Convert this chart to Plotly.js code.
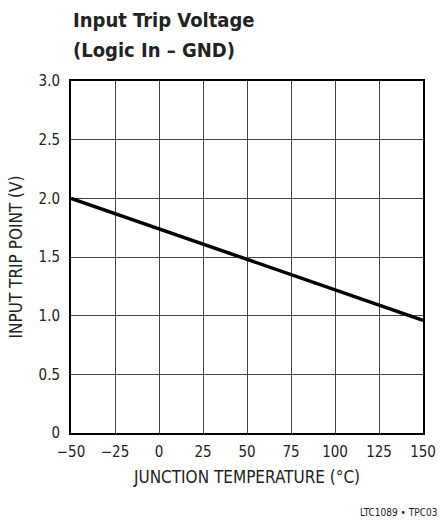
<!DOCTYPE html>
<html>
<head>
<meta charset="utf-8">
<script src="https://cdn.plot.ly/plotly-3.0.1.min.js"></script>
<style>
html,body{margin:0;padding:0;background:#fff;}
#chart{width:440px;height:521px;}
</style>
</head>
<body>
<div id="chart"></div>
<script>
const temperature = [-50, 0, 50, 100, 150];
const tripPoint = [2.0, 1.74, 1.48, 1.22, 0.96];
const xTickVals = [-50, -25, 0, 25, 50, 75, 100, 125, 150];
const xTickText = ["\u221250", "\u221225", "0", "25", "50", "75", "100", "125", "150"];
const yTickVals = [0, 0.5, 1.0, 1.5, 2.0, 2.5, 3.0];
const yTickText = ["0", "0.5", "1.0", "1.5", "2.0", "2.5", "3.0"];

const FONT = "'Liberation Sans Narrow', 'DejaVu Sans Condensed', 'Roboto Condensed', sans-serif";

const trace = {
  x: temperature,
  y: tripPoint,
  mode: 'lines',
  line: {color: '#000', width: 3.5},
  hoverinfo: 'skip'
};

const layout = {
  width: 440,
  height: 521,
  margin: {l: 71, r: 17, t: 81, b: 88},
  paper_bgcolor: '#fff',
  plot_bgcolor: '#fff',
  showlegend: false,
  font: {family: FONT, color: '#222', size: 15},
  xaxis: {
    range: [-50, 150],
    tickmode: 'array',
    tickvals: xTickVals,
    ticktext: xTickText,
    showgrid: true,
    gridcolor: '#444',
    gridwidth: 1,
    zeroline: false,
    showline: true,
    linecolor: '#000',
    linewidth: 2,
    mirror: true,
    ticks: '',
    ticklabelstandoff: 4,
    tickfont: {family: FONT, size: 15, color: '#222'},
    title: {text: 'JUNCTION TEMPERATURE (\u00b0C)', font: {family: FONT, size: 17, color: '#222'}, standoff: 11}
  },
  yaxis: {
    range: [0, 3],
    tickmode: 'array',
    tickvals: yTickVals,
    ticktext: yTickText,
    showgrid: true,
    gridcolor: '#444',
    gridwidth: 1,
    zeroline: false,
    showline: true,
    linecolor: '#000',
    linewidth: 2,
    mirror: true,
    ticks: '',
    ticklabelstandoff: 6,
    tickfont: {family: FONT, size: 15, color: '#222'},
    title: {text: 'INPUT TRIP POINT (V)', font: {family: FONT, size: 17, color: '#222'}, standoff: 12}
  },
  annotations: [
    {
      text: '<b>Input Trip Voltage</b>',
      xref: 'paper', yref: 'paper',
      x: 0, y: 1 + 47/352,
      xanchor: 'left', yanchor: 'bottom',
      showarrow: false,
      font: {family: FONT, size: 20, color: '#222'}
    },
    {
      text: '<b>(Logic In \u2013 GND)</b>',
      xref: 'paper', yref: 'paper',
      x: 0, y: 1 + 17/352,
      xanchor: 'left', yanchor: 'bottom',
      showarrow: false,
      font: {family: FONT, size: 20, color: '#222'}
    },
    {
      text: 'LTC1089 \u2022 TPC03',
      xref: 'paper', yref: 'paper',
      x: 1.045, y: -72/352,
      xanchor: 'right', yanchor: 'top',
      showarrow: false,
      font: {family: FONT, size: 10, color: '#222'}
    }
  ]
};

Plotly.newPlot('chart', [trace], layout, {displayModeBar: false, staticPlot: true});
</script>
</body>
</html>
